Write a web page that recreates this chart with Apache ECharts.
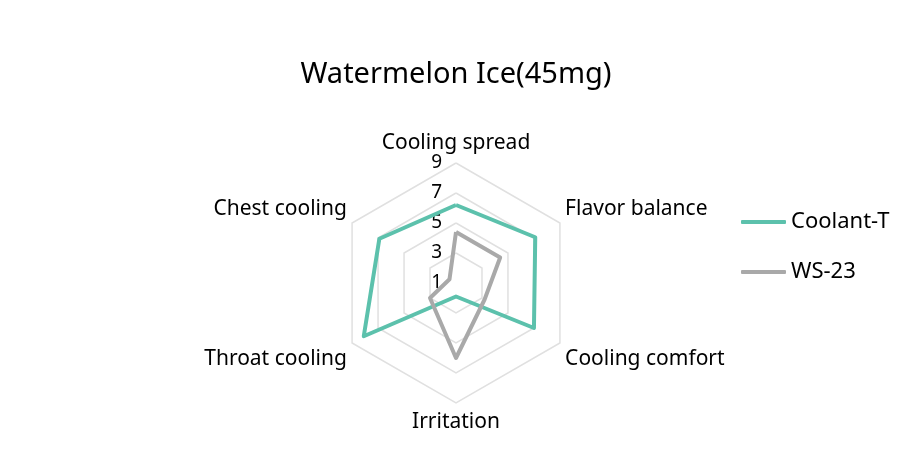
<!DOCTYPE html>
<html>
<head>
<meta charset="utf-8">
<script src="https://cdn.jsdelivr.net/npm/echarts@6/dist/echarts.min.js"></script>
<style>
html,body{margin:0;padding:0;background:#fff;}
#chart{width:912px;height:455px;}
</style>
</head>
<body>
<div id="chart"></div>
<script>
const titleText = 'Watermelon Ice(45mg)';
const indicators = ['Cooling spread', 'Chest cooling', 'Throat cooling', 'Irritation', 'Cooling comfort', 'Flavor balance'];
const seriesNames = ['Coolant-T', 'WS-23'];
const coolantT = [6.2, 6.9, 8.1, 1.9, 7.0, 7.1];
const ws23 = [4.4, 1.5, 3.0, 6.0, 3.2, 4.4];
const axisMin = 1, axisMax = 9;
const colors = ['#5cc1ac', '#a9a9a9'];
const FONT = 'Noto Sans';
// label placement style per indicator (top, upper side, lower side, bottom)
const namePlace = ['top', 'upper', 'lower', 'bottom', 'lower', 'upper'];

const nameFont = {fontFamily: FONT, fontSize: 21, color: '#000'};
function fmtName(name) {
  const i = indicators.indexOf(name);
  const p = namePlace[i];
  if (p === 'upper') return '{n|' + name + '}\n{u| }';
  if (p === 'lower') return '{d| }\n{n|' + name + '}';
  if (p === 'top') return '{t|' + name + '}';
  return '{b|' + name + '}';
}

const chart = echarts.init(document.getElementById('chart'));
chart.setOption({
  animation: false,
  title: {
    text: titleText,
    left: 'center',
    top: 55,
    textStyle: {fontFamily: FONT, fontSize: 29, fontWeight: 'normal', color: '#000'}
  },
  legend: {
    orient: 'vertical',
    left: 736,
    top: 206,
    itemWidth: 45,
    itemHeight: 4,
    itemGap: 28,
    icon: 'roundRect',
    data: seriesNames,
    textStyle: {fontFamily: FONT, fontSize: 22, color: '#000'}
  },
  radar: {
    center: ['50%', 283],
    radius: 120,
    startAngle: 90,
    splitNumber: 4,
    shape: 'polygon',
    axisName: {
      fontFamily: FONT, fontSize: 21, color: '#000',
      formatter: fmtName,
      rich: {
        n: nameFont,
        t: Object.assign({lineHeight: 15}, nameFont),
        b: Object.assign({lineHeight: 27}, nameFont),
        u: {fontSize: 2, lineHeight: 22},
        d: {fontSize: 2, lineHeight: 26}
      }
    },
    nameGap: 6,
    axisLine: {show: false},
    axisTick: {show: false},
    axisLabel: {show: false},
    splitArea: {show: false},
    splitLine: {lineStyle: {color: '#e0e0e0', width: 1.5}},
    indicator: indicators.map((n, i) => {
      const o = {name: n, min: axisMin, max: axisMax};
      if (i === 0) o.axisLabel = {show: true, fontFamily: FONT, fontSize: 19, color: '#000', margin: 14};
      return o;
    })
  },
  series: [{
    type: 'radar',
    symbol: 'none',
    data: [
      {name: seriesNames[0], value: coolantT, lineStyle: {color: colors[0], width: 4}, itemStyle: {color: colors[0]}},
      {name: seriesNames[1], value: ws23, lineStyle: {color: colors[1], width: 4}, itemStyle: {color: colors[1]}}
    ]
  }]
});
</script>
</body>
</html>
